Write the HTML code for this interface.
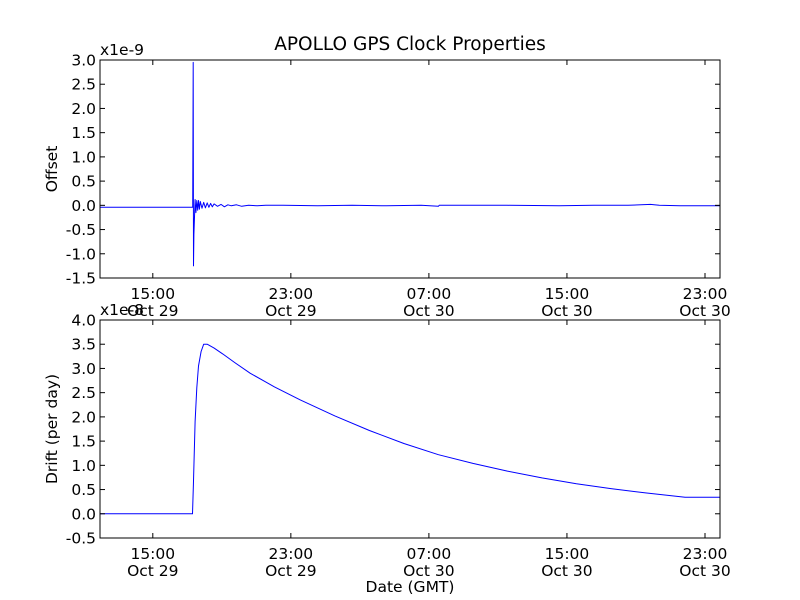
<!DOCTYPE html>
<html><head><meta charset="utf-8"><style>
body{margin:0;background:#fff;}
svg{display:block;font-family:"DejaVu Sans","Liberation Sans",sans-serif;}
</style></head><body>
<svg id="c" width="800" height="600" xmlns="http://www.w3.org/2000/svg">
<rect width="800" height="600" fill="#fff"/>
<text x="410" y="50" font-size="18.5" text-anchor="middle">APOLLO GPS Clock Properties</text>
<g id="g"></g>
</svg>
<script>
// x in hours since Oct 29 00:00 GMT
const xTickHours=[15,23,31,39,47];
const xTickTimes=["15:00","23:00","07:00","15:00","23:00"];
const xTickDates=["Oct 29","Oct 29","Oct 30","Oct 30","Oct 30"];
const offTicks=[3.0,2.5,2.0,1.5,1.0,0.5,0.0,-0.5,-1.0,-1.5];
const driftTicks=[4.0,3.5,3.0,2.5,2.0,1.5,1.0,0.5,0.0,-0.5];
const offT=[11.94,17.31,17.34,17.36,17.38,17.41,17.45,17.5,17.55,17.6,17.65,17.7,17.75,17.85,17.95,18.05,18.15,18.25,18.35,18.45,18.55,18.75,18.95,19.15,19.35,19.55,19.85,20.15,20.55,21.05,21.55,22.55,24.55,26.55,28.55,30.55,31.55,31.6,32.55,35.55,38.55,40.55,42.55,43.85,44.05,44.35,45.55,47.87];
const offV=[-0.04,-0.04,2.95,-1.25,-0.6,-0.3,0.12,-0.15,0.1,-0.1,0.1,-0.08,0.08,-0.06,0.06,-0.05,0.05,-0.04,0.04,-0.03,0.03,-0.02,0.02,-0.03,0.01,-0.01,0.01,-0.02,0.0,-0.01,0.0,0.0,-0.01,0.0,-0.01,0.0,-0.02,0.0,0.0,0.0,-0.01,0.0,0.0,0.02,0.01,0.0,-0.01,-0.01];
const driftT=[11.94,17.3,17.35,17.45,17.55,17.65,17.8,17.95,18.15,18.55,19.05,19.75,20.65,22.05,23.55,25.55,27.55,29.55,31.55,33.55,35.55,37.55,39.55,41.55,43.55,45.85,47.87];
const driftV=[0,0,0.6,1.9,2.6,3.05,3.35,3.5,3.5,3.42,3.3,3.12,2.9,2.62,2.35,2.02,1.72,1.45,1.22,1.04,0.88,0.74,0.62,0.52,0.43,0.34,0.34];

const NS="http://www.w3.org/2000/svg", G=document.getElementById('g');
function mk(t,a,txt){const e=document.createElementNS(NS,t);for(const k in a)e.setAttribute(k,a[k]);if(txt!=null)e.textContent=txt;G.appendChild(e);return e;}
const X0=11.94,X1=47.87,L=100,R=720,FS=15.5;
const sx=h=>L+(h-X0)/(X1-X0)*(R-L);
function panel(top,bot,ymax,ymin,ticks,xs,ys,exp,ylab,name){
  const sy=v=>top+(ymax-v)/(ymax-ymin)*(bot-top);
  const d=xs.map((h,i)=>(i?'L':'M')+sx(h).toFixed(1)+','+sy(ys[i]).toFixed(1)).join('');
  const line=mk('path',{d:d,fill:'none',stroke:'#00f','stroke-width':1,'stroke-linejoin':'round'});
  
  
  ticks.forEach(v=>{const y=sy(v);
    mk('line',{x1:L,x2:L+5,y1:y,y2:y,stroke:'#000'});
    mk('line',{x1:R,x2:R-5,y1:y,y2:y,stroke:'#000'});
    const t=mk('text',{x:L-4,y:y+5.5,'font-size':FS,'text-anchor':'end'},v.toFixed(1));
    
    
  });
  xTickHours.forEach((h,i)=>{const x=sx(h);
    mk('line',{x1:x,x2:x,y1:bot,y2:bot-5,stroke:'#000'});
    mk('line',{x1:x,x2:x,y1:top,y2:top+5,stroke:'#000'});
    const a=mk('text',{x:x,y:bot+21,'font-size':FS,'text-anchor':'middle'},xTickTimes[i]);
    
    
    const b=mk('text',{x:x,y:bot+38,'font-size':FS,'text-anchor':'middle'},xTickDates[i]);
    
    
  });
  const f=mk('rect',{x:L,y:top,width:R-L,height:bot-top,fill:'none',stroke:'#000','stroke-width':1});
  
  
  const e=mk('text',{x:L,y:top-5,'font-size':FS},exp);
  
  
  const yl=mk('text',{x:0,y:0,'font-size':FS,'text-anchor':'middle',transform:`translate(57,${(top+bot)/2}) rotate(-90)`},ylab);
  
  
}
panel(60,278,3.0,-1.5,offTicks,offT,offV,'x1e-9','Offset','offset');
panel(320,538,4.0,-0.5,driftTicks,driftT,driftV,'x1e-8','Drift (per day)','drift');
const xl=mk('text',{x:410,y:592,'font-size':FS,'text-anchor':'middle'},'Date (GMT)');


</script>
</body></html>
